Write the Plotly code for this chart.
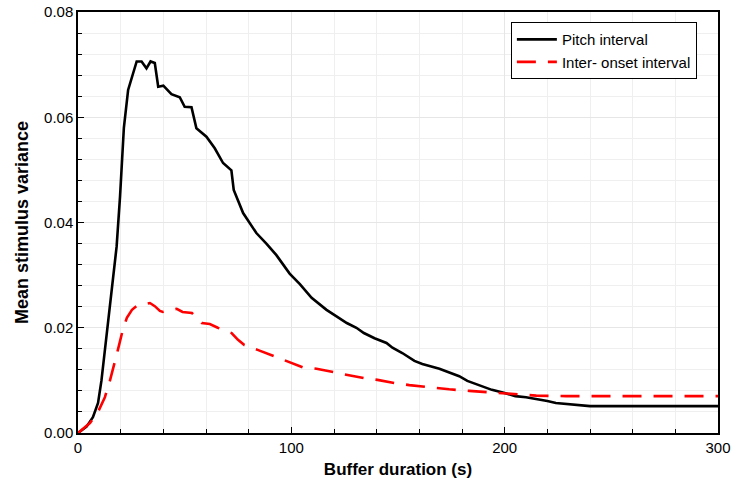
import plotly.graph_objects as go

pitch_x = [0, 4, 7, 9.4, 11, 13, 15.8, 18.1, 19.7, 21.5, 23.5, 27.5, 29.8, 32.1, 34, 36, 37.6, 40,
           43.8, 47.7, 50, 53.2, 55.5, 60.2, 64.1, 68, 71.9, 73, 77.4, 83.6, 88.3, 93, 99.2, 104,
           109.5, 112, 116.5, 121, 126, 130.5, 134, 139, 144.6, 147.4, 152, 157.7, 161.4, 169.4,
           178.7, 182.5, 188, 194, 200, 205, 210, 215, 220, 224, 230, 236, 240, 300]
pitch_y = [0, 0.0012, 0.003, 0.0057, 0.010, 0.017, 0.0276, 0.0354, 0.0449, 0.058, 0.0652, 0.0706,
           0.0706, 0.0693, 0.0706, 0.0703, 0.0658, 0.066, 0.0644, 0.0638, 0.062, 0.0619, 0.0579,
           0.0563, 0.0541, 0.0513, 0.0499, 0.0462, 0.0418, 0.038, 0.036, 0.0338, 0.0303, 0.0283,
           0.0257, 0.0249, 0.0234, 0.0222, 0.0209, 0.02, 0.019, 0.018, 0.0171, 0.0162, 0.0152,
           0.0137, 0.0131, 0.0122, 0.0108, 0.0099, 0.0091, 0.0082, 0.0076, 0.007, 0.0068, 0.0065,
           0.0061, 0.0057, 0.0055, 0.0052, 0.0051, 0.0051]

ioi_x = [0, 5.6, 9.4, 12.6, 15, 16.4, 18.7, 21, 22.9, 25.3, 28, 31.4, 33.7, 36, 38.4, 39.8, 46.3,
         49, 53.4, 58, 61.8, 65.5, 72, 75, 78, 84.2, 90.8, 97.8, 105.3, 111.8, 116.5, 125.9,
         134.3, 140.4, 148.2, 155.3, 163.3, 174, 183.4, 192.8, 203.5, 214.8, 228.8, 300]
ioi_y = [0, 0.0019, 0.004, 0.0068, 0.010, 0.012, 0.0158, 0.0196, 0.0219, 0.0234, 0.0243, 0.0245,
         0.0247, 0.0241, 0.0232, 0.023, 0.0236, 0.023, 0.0228, 0.0209, 0.0207, 0.02, 0.019,
         0.0177, 0.0167, 0.0158, 0.0148, 0.0137, 0.0125, 0.0122, 0.0118, 0.011, 0.0104, 0.0101,
         0.0095, 0.0091, 0.0087, 0.0083, 0.008, 0.0077, 0.0074, 0.0071, 0.007, 0.007]

names = ["Pitch interval", "Inter- onset interval"]

fig = go.Figure()
fig.add_trace(go.Scatter(x=pitch_x, y=pitch_y, mode="lines", name=names[0],
                         line=dict(color="black", width=2.6)))
fig.add_trace(go.Scatter(x=ioi_x, y=ioi_y, mode="lines", name=names[1],
                         line=dict(color="#ff0000", width=2.6, dash="19px,12px")))

font = "Liberation Sans, Arial, sans-serif"
fig.update_layout(
    width=734, height=479,
    margin=dict(l=78, r=16, t=12, b=46, autoexpand=False),
    plot_bgcolor="white", paper_bgcolor="white",
    font=dict(family=font, size=15, color="black"),
    legend=dict(x=0.967, y=0.976, xanchor="right", yanchor="top",
                bordercolor="black", borderwidth=1, bgcolor="white",
                font=dict(size=15), tracegroupgap=0, itemwidth=40),
    showlegend=True,
)
fig.update_xaxes(
    range=[0, 300], dtick=100, tick0=0, automargin=False,
    showline=True, linecolor="black", linewidth=1.5, mirror=True,
    ticks="inside", ticklen=6, tickcolor="black",
    showgrid=True, gridcolor="#e6e6e6", gridwidth=1,
    minor=dict(dtick=20, ticks="inside", ticklen=4, tickcolor="black",
               showgrid=True, gridcolor="#efefef", gridwidth=1),
    zeroline=False,
    title=dict(text="<b>Buffer duration (s)</b>", font=dict(size=17), standoff=8),
    tickfont=dict(size=15),
)
fig.update_yaxes(
    range=[0, 0.08], dtick=0.02, tick0=0, tickformat=".2f", automargin=False,
    showline=True, linecolor="black", linewidth=1.5, mirror=True,
    ticks="inside", ticklen=6, tickcolor="black",
    showgrid=True, gridcolor="#e6e6e6", gridwidth=1,
    minor=dict(dtick=0.004, ticks="inside", ticklen=4, tickcolor="black",
               showgrid=True, gridcolor="#efefef", gridwidth=1),
    zeroline=False,
    title=dict(text="<b>Mean stimulus variance</b>", font=dict(size=18), standoff=11),
    tickfont=dict(size=15),
)

fig.write_html("out.html")
